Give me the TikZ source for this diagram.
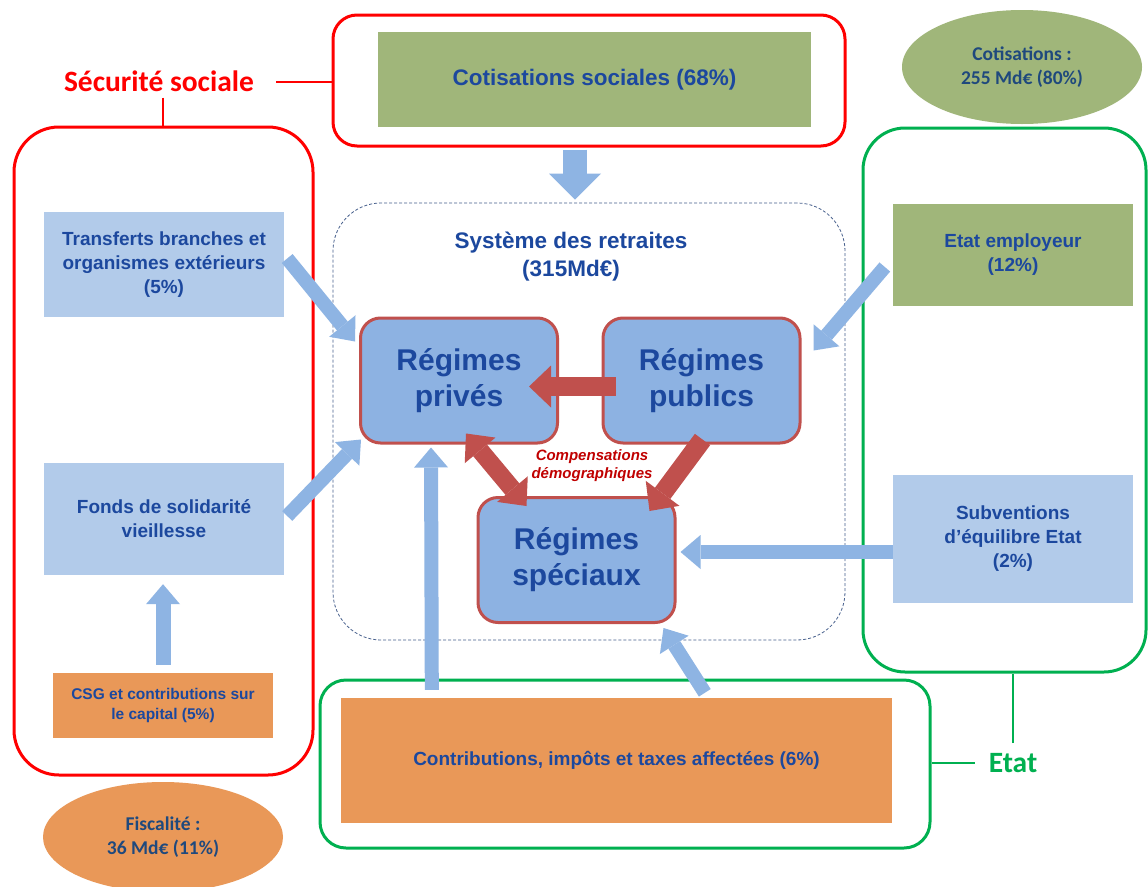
\documentclass[tikz,border=0pt]{standalone}
\usepackage{fontspec}
\setmainfont{Liberation Sans}
\newfontfamily\calfont{Carlito}
\usetikzlibrary{arrows.meta,calc,shapes.geometric}
\definecolor{secred}{RGB}{255,0,0}
\definecolor{etatgreen}{RGB}{0,176,80}
\definecolor{olive}{RGB}{160,182,122}
\definecolor{lightblue}{RGB}{178,203,234}
\definecolor{arrblue}{RGB}{142,180,227}
\definecolor{regfill}{RGB}{141,178,226}
\definecolor{regborder}{RGB}{192,80,77}
\definecolor{orangefill}{RGB}{233,152,88}
\definecolor{txtblue}{RGB}{28,72,158}
\definecolor{elltxt}{RGB}{31,73,125}
\definecolor{comptxt}{RGB}{192,0,0}
\definecolor{dashcol}{RGB}{70,95,140}
\tikzset{
  redframe/.style={draw=secred, line width=3pt, inner sep=0pt},
  greenframe/.style={draw=etatgreen, line width=3pt, inner sep=0pt},
  boxtext/.style={text=txtblue, align=center, font=\bfseries\fontsize{19}{24}\selectfont, inner sep=0pt},
  olivebox/.style={boxtext, fill=olive},
  bluebox/.style={boxtext, fill=lightblue},
  orangebox/.style={boxtext, fill=orangefill},
  regbox/.style={draw=regborder, fill=regfill, line width=3pt, rounded corners=20pt,
    text=txtblue, align=center, font=\bfseries\fontsize{30}{36}\selectfont,
    minimum width=197pt, minimum height=125pt, inner sep=0pt},
  ellbox/.style={ellipse, text=elltxt, align=center, font=\calfont\bfseries\fontsize{19.5}{24.5}\selectfont, inner sep=0pt},
  grouplabel/.style={font=\calfont\bfseries\fontsize{29.5}{33}\selectfont, inner sep=2pt},
  bluearrow/.style={draw=arrblue, line width=14pt, -{Triangle[width=34pt,length=20pt,line width=0pt]}},
  bigbluearrow/.style={draw=arrblue, line width=24pt, -{Triangle[width=52pt,length=26pt,line width=0pt]}},
  redarrow/.style={draw=regborder, line width=19pt, -{Triangle[width=42pt,length=22pt,line width=0pt]}},
  reddouble/.style={draw=regborder, line width=18pt, {Triangle[width=40pt,length=22pt,line width=0pt]}-{Triangle[width=40pt,length=22pt,line width=0pt]}},
}
\begin{document}
\begin{tikzpicture}[x=1pt,y=-1pt]
\useasboundingbox (0,0) rectangle (1148,886);
\fill[white] (0,0) rectangle (1148,886);

% frames
\node[redframe, rounded corners=24pt, minimum width=512pt, minimum height=131pt] (secTop) at (589,80.5) {};
\node[redframe, rounded corners=45pt, minimum width=299pt, minimum height=648pt] (secLeft) at (163.5,451) {};
\node[greenframe, rounded corners=42pt, minimum width=283pt, minimum height=544pt] (etatRight) at (1004.5,400) {};
\node[greenframe, rounded corners=26pt, minimum width=610pt, minimum height=168pt] (etatBottom) at (625,764) {};
\node[draw=dashcol, line width=0.8pt, dash pattern=on 3pt off 2pt, rounded corners=48pt, minimum width=512pt, minimum height=437pt, inner sep=0pt] (sysBox) at (589,421.5) {};

% labels of groups
\node[grouplabel, text=secred] (secLabel) at (159,81) {Sécurité sociale};
\node[grouplabel, text=etatgreen] (etatLabel) at (1013,763) {Etat};
\coordinate (sl1) at ($(secLabel.east)+(20,1)$);
\draw[secred, line width=2pt] (sl1) -- (sl1 -| secTop.west);
\coordinate (sl2) at ($(secLabel.south)+(4,4)$);
\draw[secred, line width=2pt] (sl2) -- (sl2 |- secLeft.north);
\coordinate (el1) at ($(etatLabel.north)+(0,-8)$);
\draw[etatgreen, line width=2pt] (el1) -- (el1 |- etatRight.south);
\coordinate (el2) at ($(etatLabel.west)+(-12,0)$);
\draw[etatgreen, line width=2pt] (el2) -- (el2 -| etatBottom.east);

% content boxes
\node[olivebox, minimum width=433pt, minimum height=95pt, font=\bfseries\fontsize{22.5}{27}\selectfont] (cotis) at (594.5,79.5) {Cotisations sociales (68\%)};
\node[bluebox, minimum width=240pt, minimum height=105pt] (transf) at (164,264.5) {Transferts branches et\\organismes extérieurs\\(5\%)};
\node[bluebox, minimum width=240pt, minimum height=112pt] (fonds) at (164,519) {Fonds de solidarité\\vieillesse};
\node[orangebox, minimum width=220pt, minimum height=65pt, font=\bfseries\fontsize{15.5}{19.5}\selectfont] (csg) at (163,705.5) {CSG et contributions sur\\le capital (5\%)};
\node[olivebox, minimum width=240pt, minimum height=102pt] (etatEmp) at (1013,255) {Etat employeur\\(12\%)};
\node[bluebox, minimum width=240pt, minimum height=128pt] (subv) at (1013,539) {Subventions\\d’équilibre Etat\\(2\%)};
\node[orangebox, minimum width=551pt, minimum height=125pt] (contrib) at (616.5,760.5) {Contributions, impôts et taxes affectées (6\%)};

\node[ellbox, fill=olive, minimum width=240pt, minimum height=114pt] (ellCot) at (1022,67) {Cotisations :\\255 Md€ (80\%)};
\node[ellbox, fill=orangefill, minimum width=240pt, minimum height=110pt] (ellFis) at (163,837) {Fiscalité :\\36 Md€ (11\%)};

\node[text=txtblue, align=center, font=\bfseries\fontsize{22.5}{28}\selectfont] (sysLabel) at (571,257) {Système des retraites\\(315Md€)};

% regimes
\node[regbox] (prives) at (459,380.5) {Régimes\\privés};
\node[regbox] (publics) at (701.5,380.5) {Régimes\\publics};
\node[regbox] (speciaux) at (576.5,560) {Régimes\\spéciaux};

% blue arrows
\draw[bigbluearrow] ($(secTop.south)+(-14,2)$) -- ($(sysBox.north)+(-14,-3)$);
\draw[bluearrow] ($(transf.east)+(3,-6)$) -- ($(prives.west)+(-4,-39)$);
\draw[bluearrow] ($(fonds.east)+(3,-3)$) -- ($(prives.south west)+(2,-5)$);
\draw[bluearrow] ($(contrib.north west)+(91,-8)$) -- ($(prives.south west)+(72,3)$);
\draw[bluearrow] ($(contrib.north west)+(364,-5)$) -- ($(speciaux.south east)+(-13,4)$);
\draw[bluearrow] ($(etatEmp.west)+(-8,12)$) -- ($(publics.east)+(12,-30)$);
\draw[bluearrow] ($(subv.west)+(0,13)$) -- ($(speciaux.east)+(4,-8)$);
\draw[bluearrow, line width=15pt] ($(csg.north)+(0,-8)$) -- ($(fonds.south)+(-1,9)$);

% red arrows
\draw[redarrow] ($(publics.west)+(14,6)$) -- ($(prives.east)+(-30,6)$);
\draw[reddouble] ($(prives.south)+(7,-11)$) -- ($(speciaux.north west)+(50,10)$);
\draw[redarrow] ($(publics.south)+(1,-5)$) -- ($(speciaux.north east)+(-27,15)$);

\node[text=comptxt, align=center, font=\bfseries\itshape\fontsize{15}{18}\selectfont] (comp) at (592,466) {Compensations\\démographiques};
\end{tikzpicture}
\end{document}
